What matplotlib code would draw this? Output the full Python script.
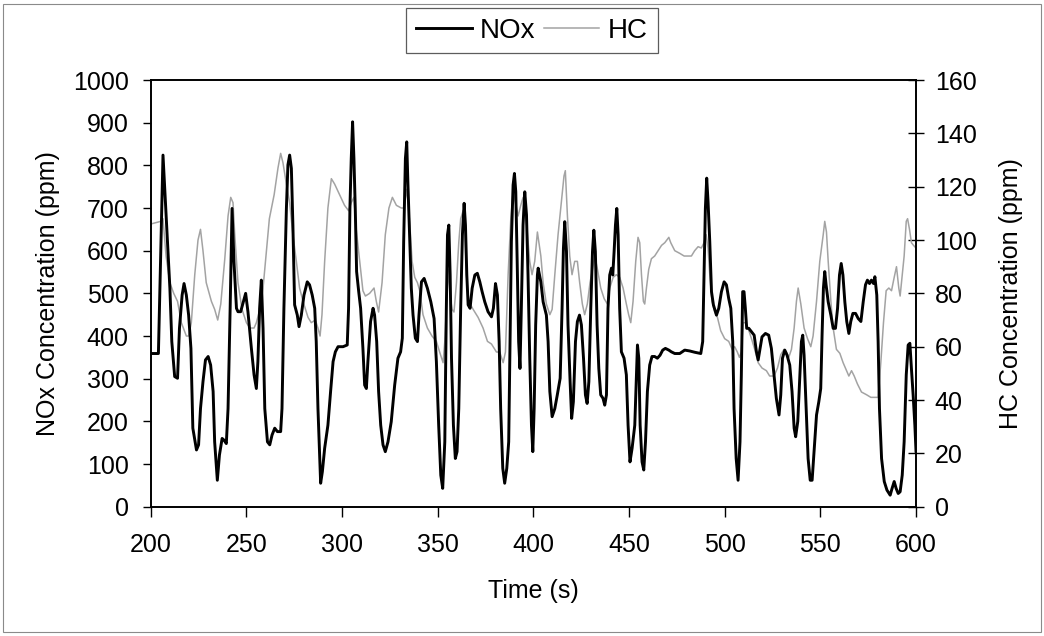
import matplotlib
matplotlib.use("Agg")
import matplotlib.pyplot as plt
from matplotlib.patches import Rectangle

plt.rcParams['font.family'] = ['Liberation Sans', 'DejaVu Sans']

# NOx trace (time in s, concentration in ppm)
nox_t = [200, 204, 206.4, 208, 210, 211, 212.5, 214, 215, 216.4, 217.4, 218.6, 219.8, 221, 222, 223.9, 225, 226,
         227.3, 228.6, 230, 231.3, 232.6, 233.4, 234.8, 235.9, 237.3, 238.3, 239.5, 240.4, 241.5, 242.5, 243.5,
         244.8, 245.6, 247, 248.4, 249.6, 250.8, 252.6, 254, 255.2, 256, 256.9, 257.8, 258.7, 259.6, 261, 262.2,
         263.4, 264.8, 266.2, 267.9, 268.6, 269.6, 270.9, 271.7, 272.6, 273.5, 274.3, 275.2, 276.6, 277.5, 278.7,
         280.1, 281.8, 283, 284.4, 285.7, 286.5, 287.4, 288.3, 288.8, 289.7, 290.9, 292.6, 294, 295.3, 296.5,
         297.9, 300.5, 302.7, 303.4, 304.1, 304.8, 305.5, 306.2, 306.9, 307.6, 308.7, 309.7, 310.9, 311.8, 312.7,
         313.5, 314.9, 316.2, 317, 318.1, 319.1, 320.2, 321.4, 322.6, 324, 325.7, 327.5, 329.2, 330.6, 331.5,
         332.2, 333.1, 333.8, 334.4, 335.4, 336.2, 337.1, 338.3, 339.4, 340.2, 341.5, 342.9, 344.6, 346.4, 348.1,
         349.3, 350.5, 351.6, 352.6, 353.7, 354.5, 355.1, 355.8, 356.5, 357.2, 358.2, 359.2, 360.1, 361, 362,
         362.9, 363.8, 364.5, 365.2, 365.9, 366.9, 368, 369.4, 370.7, 372, 373.2, 374.6, 376.3, 378.1, 379.1,
         380.2, 381.2, 382.1, 382.9, 384, 385, 386.1, 387.1, 387.8, 388.5, 389.4, 390.1, 390.8, 391.5, 392.3,
         393, 393.7, 394.6, 395.5, 396.4, 397.2, 398.1, 399, 399.7, 400.4, 401.2, 402.1, 402.5, 403.9, 405.1,
         406.8, 407.7, 408.6, 409.8, 411.2, 412.5, 414, 415, 415.7, 416.4, 417.3, 418.1, 419.2, 420, 420.9, 422,
         423, 424.1, 425.1, 426.2, 427.2, 428.1, 429, 430, 430.9, 431.6, 432.4, 433.3, 434.2, 435.2, 436.4,
         437.3, 438.2, 439, 439.9, 440.8, 441.5, 442.2, 442.9, 443.6, 444.3, 445.1, 446, 447.4, 448.6, 449.5,
         450.5, 451.6, 453, 453.9, 454.4, 455.1, 455.8, 456.8, 457.7, 458.6, 459.6, 460.8, 462, 463.4, 464.8,
         466.2, 467.6, 469, 470.8, 472.1, 473.9, 476.5, 479.1, 481.7, 484.3, 487.5, 488.5, 489.2, 489.9, 490.6,
         491.3, 492.2, 493.1, 494.1, 495.7, 496.9, 498.3, 499.7, 500.9, 502.1, 503.2, 504.2, 504.9, 506, 507,
         508, 508.7, 509.4, 510.1, 510.8, 511.5, 512.6, 514, 515.4, 516.6, 517.5, 518.5, 519.5, 521.3, 523,
         524.4, 525.8, 527, 528.4, 529.3, 530.2, 531.4, 532.6, 534, 535.2, 536.3, 537.1, 538.2, 539.3, 540.1,
         540.8, 541.5, 542.6, 543.6, 544.7, 545.7, 546.8, 548, 549.2, 550.2, 550.9, 551.6, 552.3, 553, 554.1,
         555.5, 556.7, 557.9, 559, 560, 560.9, 561.8, 562.8, 563.8, 564.9, 565.9, 567, 568.4, 569.8, 571.2,
         572.4, 573.6, 574.6, 575.7, 576.7, 577.8, 578.5, 579.5, 580.2, 580.9, 582, 583.4, 584.8, 586.5, 587.5,
         588.6, 589.6, 590.7, 591.7, 592.8, 593.8, 594.9, 595.9, 596.8, 597.6, 598.5, 599.4, 600]
nox_v = [359, 359, 824, 684, 512, 387, 305, 301, 418, 496, 523, 496, 449, 371, 184, 133, 145, 230,
         293, 344, 352, 332, 270, 152, 62, 121, 160, 156, 148, 230, 465, 699, 574,
         465, 457, 457, 480, 500, 457, 371, 309, 277, 340, 465, 531, 418, 230, 152, 145,
         168, 184, 176, 176, 230, 465, 699, 801, 824, 793, 660, 473, 449, 422, 449,
         496, 527, 520, 496, 465, 387, 230, 113, 55, 82, 137, 191, 270, 340, 363,
         375, 375, 379, 465, 699, 816, 902, 816, 699, 551, 504, 465, 371, 285, 277,
         340, 434, 465, 449, 387, 270, 191, 145, 129, 152, 199, 285, 348, 363, 395,
         621, 816, 855, 760, 621, 512, 449, 395, 387, 449, 527, 535, 512, 480, 441,
         340, 191, 74, 43, 152, 465, 637, 660, 543, 348, 191, 113, 129, 230, 465,
         637, 711, 660, 543, 473, 465, 512, 543, 547, 527, 504, 480, 457, 445, 465,
         523, 496, 387, 230, 90, 55, 90, 152, 387, 621, 754, 781, 738, 582, 387,
         324, 465, 660, 738, 684, 543, 348, 191, 129, 230, 426, 543, 559, 527, 480,
         449, 387, 270, 211, 230, 262, 301, 465, 605, 668, 598, 426, 293, 207, 246, 387,
         434, 449, 426, 348, 262, 242, 293, 465, 598, 648, 598, 426, 324, 262, 254,
         238, 262, 465, 543, 559, 543, 598, 660, 699, 637, 465, 363, 348, 309, 191,
         105, 137, 191, 309, 379, 348, 191, 105, 86, 152, 270, 332, 352, 352, 348,
         355, 367, 371, 367, 363, 359, 359, 367, 365, 362, 359, 387, 543, 699, 770,
         715, 621, 504, 473, 449, 465, 504, 527, 520, 488, 465, 387, 230, 113, 62,
         152, 309, 504, 504, 465, 418, 418, 410, 402, 363, 344, 371, 398, 406, 402,
         371, 309, 254, 215, 262, 348, 367, 355, 332, 270, 184, 164, 200, 309, 387,
         402, 355, 230, 113, 62, 62, 137, 215, 246, 277, 402, 512, 551, 520, 480,
         449, 418, 418, 465, 543, 570, 543, 480, 434, 406, 434, 453, 453, 441, 434,
         480, 520, 531, 523, 531, 523, 539, 496, 387, 230, 113, 59, 39, 27, 43,
         59, 43, 31, 35, 74, 152, 309, 379, 383, 324, 262, 191, 130]

# HC trace (time in s, concentration in ppm)
hc_t = [200, 205.2, 206.4, 208, 210, 212, 214, 216, 218.6, 219.8, 221.2, 223, 224.7, 226, 227.3, 229, 231.7,
        233.4, 235, 236.6, 238.7, 240.4, 241.8, 243, 243.9, 245.6, 247.7, 250, 251.8, 254, 255.2, 257, 258.7,
        260.5, 262, 264.5, 266.5, 267.9, 269.1, 270.9, 272.6, 274.3, 276.1, 277.8, 279.6, 282.2, 283.9, 286,
        287.4, 288.5, 289.5, 290.9, 292.6, 294.4, 296.1, 298.7, 301.3, 303.4, 304.8, 306.2, 307.4, 309.2,
        310.9, 312.2, 314.4, 316.7, 317.9, 319.1, 320.9, 322.6, 324.5, 326.3, 328.4, 331, 332.4, 333.6, 334.5,
        335.4, 336.6, 338, 339.4, 340.6, 342.3, 344.6, 347, 349.3, 351, 352.8, 353.7, 354.5, 355.4, 356.5,
        357.5, 358.5, 359.8, 361, 362, 363.3, 364.1, 365, 366.2, 368.5, 371.1, 373.7, 376, 378.1, 380.7, 382.4,
        384.2, 385.4, 386.8, 388.2, 389.4, 390.6, 392, 393.4, 394.6, 395.5, 396.9, 398.1, 399.3, 400.7, 402.1,
        403.9, 405.1, 406.8, 408.6, 409.8, 411.2, 412.9, 414.6, 416, 416.7, 417.8, 419, 420.2, 421.6, 423,
        424.2, 425.6, 426.8, 428.2, 429.6, 430.9, 432.1, 433.5, 435.2, 437, 438.7, 439.9, 441.7, 443.4, 445.1,
        446.9, 448.6, 449.8, 450.9, 452.1, 453.5, 454.7, 455.6, 456.5, 457.5, 458.2, 459.1, 460.3, 461.7, 463.4,
        465.2, 467, 468.7, 470.8, 471.8, 473.9, 476.5, 478.8, 482.6, 484.3, 486.1, 487.8, 489.2, 490.3, 491.3,
        492.2, 493.4, 494.8, 496.2, 497.9, 500, 502.1, 503.9, 505.2, 506.6, 507.7, 508.7, 509.6, 510.8, 512.2,
        514, 515.7, 517.5, 519.5, 521.8, 523.5, 525.8, 527.6, 529.3, 531, 532.3, 533.5, 534.9, 536.3, 537.5,
        538.4, 539.8, 541.5, 543.3, 545, 546.2, 548, 549.7, 551.5, 552.3, 553.2, 554.1, 555.5, 556.7, 558.4,
        560.2, 561.9, 563.7, 564.9, 566.3, 567.7, 569.4, 571.5, 574.1, 576.4, 578.5, 580.2, 581.6, 583, 584.4,
        585.8, 587.2, 588.6, 589.8, 591, 591.7, 592.8, 593.8, 594.9, 595.6, 596.6, 597.6, 598.7, 600]
hc_v = [106, 107, 108, 94, 84, 80, 77, 69, 64, 64, 69, 87, 100, 104, 96, 84, 77,
        74, 70, 76, 93, 109, 116, 114, 102, 84, 74, 69, 67, 67, 69, 74, 82,
        96, 108, 117, 127, 132.5, 129, 121, 114, 102, 92, 82, 77, 71, 69, 70,
        67, 64, 72, 92, 112, 123, 121, 117, 113, 111, 114, 116, 104, 92,
        81, 79, 80, 82, 77, 73, 84, 102, 112, 116, 113, 112, 112, 119, 114,
        106, 92, 86, 84, 81, 72, 67, 64, 62, 58, 54, 62, 74, 89, 79,
        74, 73, 84, 99, 108, 111, 106, 87, 77, 74, 71, 67, 62, 61, 58, 58,
        54, 58, 87, 108, 118, 114, 109, 113, 116, 114, 102, 92, 87, 92, 103,
        94, 84, 76, 72, 74, 87, 102, 114, 124, 126, 109, 94, 87, 92, 92,
        84, 76, 72, 76, 84, 89, 94, 89, 82, 78, 76, 82, 86, 87, 86,
        82, 76, 72, 69, 77, 92, 101, 99, 87, 77, 76, 82, 89, 93, 94,
        96, 98, 99, 101, 99, 96, 95, 94, 94, 96, 97.5, 97, 99, 102, 97,
        87, 77, 73, 71, 66, 63, 62, 59, 60, 58, 56, 58, 69, 69, 67,
        63, 59, 54, 52, 51, 49, 49, 52, 57, 59, 58, 56, 59, 67, 77,
        82, 76, 67, 63, 60, 64, 77, 92, 102, 107, 103, 92, 77, 67, 59,
        57.5, 54, 51, 49, 51, 49, 46, 43, 42, 41, 41, 41, 54, 69, 81,
        82, 81, 86, 90, 82, 79, 87, 94, 107, 108, 104, 99, 98, 97]

x_ticks = [200, 250, 300, 350, 400, 450, 500, 550, 600]
nox_ticks = [0, 100, 200, 300, 400, 500, 600, 700, 800, 900, 1000]
hc_ticks = [0, 20, 40, 60, 80, 100, 120, 140, 160]

fig = plt.figure(figsize=(10.44, 6.36), dpi=100)
ax = fig.add_axes([0.1444, 0.2033, 0.7330, 0.6709])
ax2 = ax.twinx()

l1, = ax.plot(nox_t, nox_v, color='black', lw=2.1, label='NOx', zorder=3)
l2, = ax2.plot(hc_t, hc_v, color='#a3a3a3', lw=1.1, label='HC', zorder=2)
ax.set_zorder(ax2.get_zorder() + 1)
ax.patch.set_visible(False)

fs = 18
ax.set_xlim(200, 600)
ax.set_ylim(0, 1000)
ax2.set_ylim(0, 160)
ax.set_xticks(x_ticks)
ax.set_yticks(nox_ticks)
ax2.set_yticks(hc_ticks)

ax.tick_params(axis='y', direction='out', length=6, width=1, pad=10, labelsize=fs)
ax.tick_params(axis='x', direction='out', length=7, width=1, pad=12, labelsize=fs)
ax2.tick_params(axis='y', direction='inout', length=11, width=1, pad=8, labelsize=fs)

ax.set_xlabel('Time (s)', fontsize=fs)
ax.set_ylabel('NOx Concentration (ppm)', fontsize=fs)
ax2.set_ylabel('HC Concentration (ppm)', fontsize=fs)
ax.xaxis.set_label_coords(0.5, -0.17)
ax.yaxis.set_label_coords(-0.118, 0.5)
ax2.yaxis.set_label_coords(1.109, 0.5)

for a in (ax, ax2):
    for s in a.spines.values():
        s.set_linewidth(1.2)
        s.set_color('black')

leg = fig.legend([l1, l2], ['NOx', 'HC'], loc='upper center', bbox_to_anchor=(532 / 1044, 1 - 8 / 636),
                 ncol=2, fontsize=20, frameon=True, fancybox=False, handlelength=2.0,
                 handletextpad=0.3, columnspacing=0.3, borderpad=0.35, borderaxespad=0)
leg.get_frame().set_edgecolor('#333333')
leg.get_frame().set_linewidth(0.9)

# thin outer border of the chart area
fig.patches.append(Rectangle((0.003, 0.006), 0.994, 0.988, transform=fig.transFigure,
                             fill=False, edgecolor='#8a8a8a', lw=0.8))

fig.savefig('out.png', dpi=100)
